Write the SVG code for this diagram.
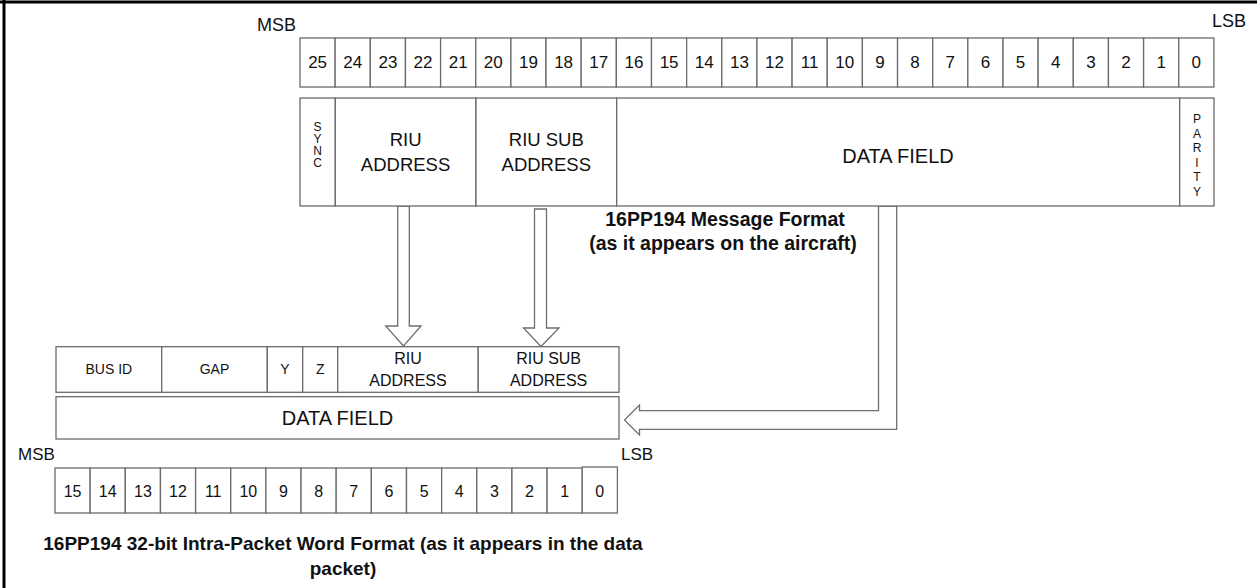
<svg xmlns="http://www.w3.org/2000/svg" width="1257" height="588" viewBox="0 0 1257 588">
<style>
text{font-family:"Liberation Sans",Arial,sans-serif;fill:#111;}
.cell{fill:#fff;stroke:#6b6b6b;stroke-width:1.3;}
.bit{font-size:17px;text-anchor:middle;}
.bitb{font-size:16px;text-anchor:middle;}
.f18{font-size:18.5px;text-anchor:middle;}
.f20{font-size:20px;text-anchor:middle;}
.f16{font-size:16px;text-anchor:middle;}
.f14{font-size:14px;text-anchor:middle;}
.v{font-size:12px;text-anchor:middle;}
.cap{font-size:19.5px;font-weight:bold;text-anchor:middle;}
.capb{font-size:19px;font-weight:bold;text-anchor:middle;}
.lbl{font-size:18px;}
.arr{fill:#fff;stroke:#6e6e6e;stroke-width:1.3;}
</style>
<rect x="0" y="0" width="1257" height="588" fill="#fff"/>
<g id="frame">
<line x1="0" y1="2" x2="1257" y2="2" stroke="#000" stroke-width="3"/>
<line x1="4" y1="0" x2="4" y2="588" stroke="#000" stroke-width="3"/>
</g>
<g id="top-bits">
<text class="lbl" x="257" y="31">MSB</text>
<text class="lbl" x="1212" y="27">LSB</text>
<rect class="cell" x="300" y="38" width="35.15" height="49"/><text class="bit" x="317.6" y="68">25</text>
<rect class="cell" x="335.15" y="38" width="35.15" height="49"/><text class="bit" x="352.7" y="68">24</text>
<rect class="cell" x="370.3" y="38" width="35.15" height="49"/><text class="bit" x="387.9" y="68">23</text>
<rect class="cell" x="405.45" y="38" width="35.15" height="49"/><text class="bit" x="423" y="68">22</text>
<rect class="cell" x="440.6" y="38" width="35.15" height="49"/><text class="bit" x="458.2" y="68">21</text>
<rect class="cell" x="475.75" y="38" width="35.15" height="49"/><text class="bit" x="493.3" y="68">20</text>
<rect class="cell" x="510.9" y="38" width="35.15" height="49"/><text class="bit" x="528.5" y="68">19</text>
<rect class="cell" x="546.05" y="38" width="35.15" height="49"/><text class="bit" x="563.6" y="68">18</text>
<rect class="cell" x="581.2" y="38" width="35.15" height="49"/><text class="bit" x="598.8" y="68">17</text>
<rect class="cell" x="616.35" y="38" width="35.15" height="49"/><text class="bit" x="633.9" y="68">16</text>
<rect class="cell" x="651.5" y="38" width="35.15" height="49"/><text class="bit" x="669.1" y="68">15</text>
<rect class="cell" x="686.65" y="38" width="35.15" height="49"/><text class="bit" x="704.2" y="68">14</text>
<rect class="cell" x="721.8" y="38" width="35.15" height="49"/><text class="bit" x="739.4" y="68">13</text>
<rect class="cell" x="756.95" y="38" width="35.15" height="49"/><text class="bit" x="774.5" y="68">12</text>
<rect class="cell" x="792.1" y="38" width="35.15" height="49"/><text class="bit" x="809.7" y="68">11</text>
<rect class="cell" x="827.25" y="38" width="35.15" height="49"/><text class="bit" x="844.8" y="68">10</text>
<rect class="cell" x="862.4" y="38" width="35.15" height="49"/><text class="bit" x="880" y="68">9</text>
<rect class="cell" x="897.55" y="38" width="35.15" height="49"/><text class="bit" x="915.1" y="68">8</text>
<rect class="cell" x="932.7" y="38" width="35.15" height="49"/><text class="bit" x="950.3" y="68">7</text>
<rect class="cell" x="967.85" y="38" width="35.15" height="49"/><text class="bit" x="985.4" y="68">6</text>
<rect class="cell" x="1003" y="38" width="35.15" height="49"/><text class="bit" x="1020.6" y="68">5</text>
<rect class="cell" x="1038.15" y="38" width="35.15" height="49"/><text class="bit" x="1055.7" y="68">4</text>
<rect class="cell" x="1073.3" y="38" width="35.15" height="49"/><text class="bit" x="1090.9" y="68">3</text>
<rect class="cell" x="1108.45" y="38" width="35.15" height="49"/><text class="bit" x="1126" y="68">2</text>
<rect class="cell" x="1143.6" y="38" width="35.15" height="49"/><text class="bit" x="1161.2" y="68">1</text>
<rect class="cell" x="1178.75" y="38" width="35.15" height="49"/><text class="bit" x="1196.3" y="68">0</text>
</g>
<g id="connectors">
<polygon class="arr" points="397.7,206 409.3,206 409.3,326 421,326 403.5,346 385.7,326 397.7,326"/>
<polygon class="arr" points="534.5,209 546.5,209 546.5,328 559,328 541,346.5 523.5,328 534.5,328"/>
<polygon class="arr" points="878.5,206 878.5,410.7 639.5,410.7 639.5,405 624.5,420 639.5,435 639.5,429.3 896.7,429.3 896.7,206"/>
</g>
<g id="top-fields">
<g id="sync"><rect class="cell" x="300" y="98" width="35.3" height="108"/>
<text class="v" x="317.6" y="131">S</text><text class="v" x="317.6" y="143">Y</text><text class="v" x="317.6" y="155">N</text><text class="v" x="317.6" y="167">C</text></g>
<g id="riu-address"><rect class="cell" x="335.3" y="98" width="140.7" height="108"/>
<text class="f18" x="405.6" y="146">RIU</text><text class="f18" x="405.6" y="171">ADDRESS</text></g>
<g id="riu-sub-address"><rect class="cell" x="476" y="98" width="140.7" height="108"/>
<text class="f18" x="546.3" y="146">RIU SUB</text><text class="f18" x="546.3" y="171">ADDRESS</text></g>
<g id="data-field-top"><rect class="cell" x="616.7" y="98" width="563" height="108"/>
<text class="f20" x="898" y="163">DATA FIELD</text></g>
<g id="parity"><rect class="cell" x="1179.7" y="98" width="34.3" height="108"/>
<text class="v" x="1197" y="123">P</text><text class="v" x="1197" y="137.5">A</text><text class="v" x="1197" y="152">R</text><text class="v" x="1197" y="166.5">I</text><text class="v" x="1197" y="181">T</text><text class="v" x="1197" y="195.5">Y</text></g>
</g>
<g id="caption-top">
<text class="cap" x="725" y="226">16PP194 Message Format</text>
<text class="cap" x="723" y="250">(as it appears on the aircraft)</text>
</g>
<g id="bottom-fields">
<g id="bus-id"><rect class="cell" x="56" y="346.7" width="105.7" height="45.6"/><text class="f14" x="108.8" y="374">BUS ID</text></g>
<g id="gap"><rect class="cell" x="161.7" y="346.7" width="105.6" height="45.6"/><text class="f14" x="214.5" y="374">GAP</text></g>
<g id="y"><rect class="cell" x="267.3" y="346.7" width="35.4" height="45.6"/><text class="f14" x="285" y="374">Y</text></g>
<g id="z"><rect class="cell" x="302.7" y="346.7" width="35" height="45.6"/><text class="f14" x="320.2" y="374">Z</text></g>
<g id="riu-address-b"><rect class="cell" x="337.7" y="346.7" width="140.5" height="45.6"/><text class="f16" x="408" y="364">RIU</text><text class="f16" x="408" y="386">ADDRESS</text></g>
<g id="riu-sub-address-b"><rect class="cell" x="478.2" y="346.7" width="140.8" height="45.6"/><text class="f16" x="548.6" y="364">RIU SUB</text><text class="f16" x="548.6" y="386">ADDRESS</text></g>
<g id="data-field-b"><rect class="cell" x="56" y="396.7" width="563" height="42.3"/><text class="f20" x="337.5" y="425">DATA FIELD</text></g>
</g>
<g id="bottom-bits">
<text class="lbl" x="18" y="460" style="font-size:17px">MSB</text>
<text class="lbl" x="621" y="460" style="font-size:17px">LSB</text>
<rect class="cell" x="55" y="468" width="35.15" height="45"/><text class="bitb" x="72.6" y="497">15</text>
<rect class="cell" x="90.15" y="468" width="35.15" height="45"/><text class="bitb" x="107.7" y="497">14</text>
<rect class="cell" x="125.3" y="468" width="35.15" height="45"/><text class="bitb" x="142.9" y="497">13</text>
<rect class="cell" x="160.45" y="468" width="35.15" height="45"/><text class="bitb" x="178" y="497">12</text>
<rect class="cell" x="195.6" y="468" width="35.15" height="45"/><text class="bitb" x="213.2" y="497">11</text>
<rect class="cell" x="230.75" y="468" width="35.15" height="45"/><text class="bitb" x="248.3" y="497">10</text>
<rect class="cell" x="265.9" y="468" width="35.15" height="45"/><text class="bitb" x="283.5" y="497">9</text>
<rect class="cell" x="301.05" y="468" width="35.15" height="45"/><text class="bitb" x="318.6" y="497">8</text>
<rect class="cell" x="336.2" y="468" width="35.15" height="45"/><text class="bitb" x="353.8" y="497">7</text>
<rect class="cell" x="371.35" y="468" width="35.15" height="45"/><text class="bitb" x="388.9" y="497">6</text>
<rect class="cell" x="406.5" y="468" width="35.15" height="45"/><text class="bitb" x="424.1" y="497">5</text>
<rect class="cell" x="441.65" y="468" width="35.15" height="45"/><text class="bitb" x="459.2" y="497">4</text>
<rect class="cell" x="476.8" y="468" width="35.15" height="45"/><text class="bitb" x="494.4" y="497">3</text>
<rect class="cell" x="511.95" y="468" width="35.15" height="45"/><text class="bitb" x="529.5" y="497">2</text>
<rect class="cell" x="547.1" y="468" width="35.15" height="45"/><text class="bitb" x="564.7" y="497">1</text>
<rect class="cell" x="582.25" y="467" width="35.15" height="46"/><text class="bitb" x="599.8" y="497">0</text>
</g>
<g id="caption-bottom">
<text class="capb" x="343" y="550">16PP194 32-bit Intra-Packet Word Format (as it appears in the data</text>
<text class="capb" x="343" y="575">packet)</text>
</g>
</svg>
